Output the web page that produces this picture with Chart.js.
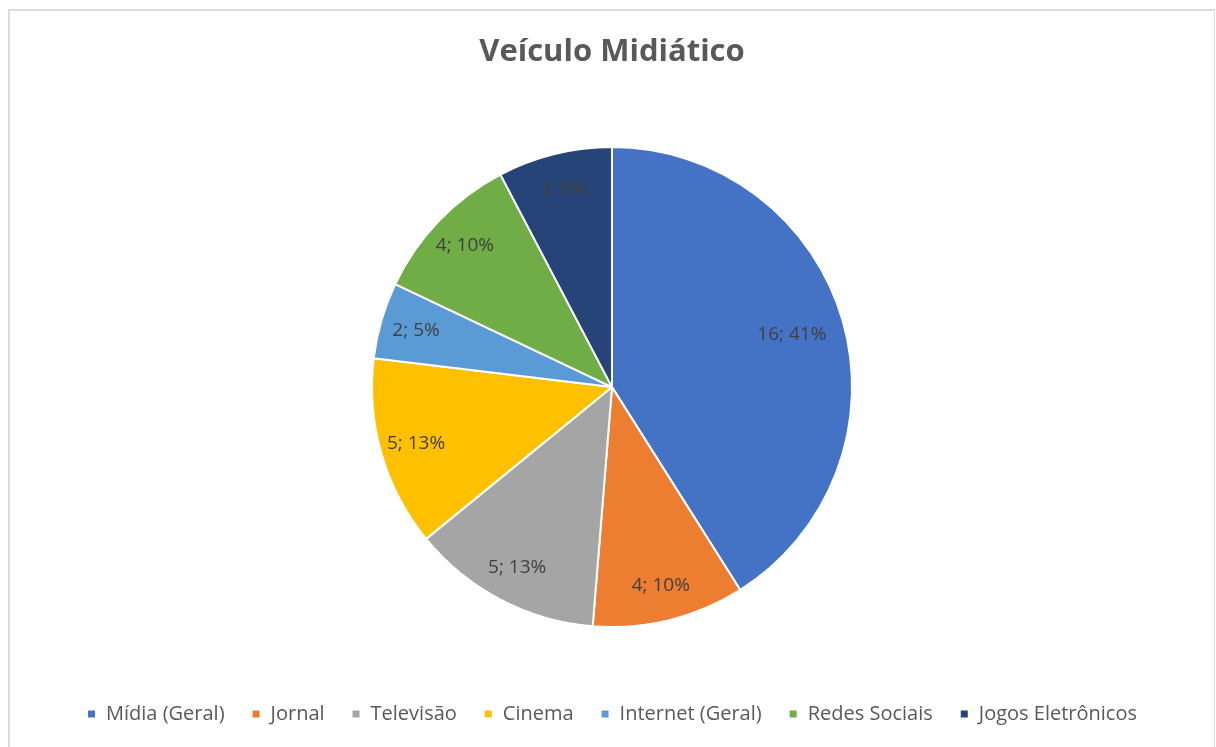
<!DOCTYPE html>
<html>
<head>
<meta charset="utf-8">
<script src="https://cdn.jsdelivr.net/npm/chart.js@4"></script>
<style>
  body { margin: 0; background: #fff; }
  #frame { position: absolute; left: 8px; top: 9px; width: 1207px; height: 760px; border: 2px solid #dcdcdc; border-right-width: 1px; box-sizing: border-box; }
  #wrap { position: absolute; left: 0; top: 0; width: 1216px; height: 747px; }
</style>
</head>
<body>
<div id="frame"></div>
<div id="wrap"><canvas id="chart"></canvas></div>
<script>
const categories = ['Mídia (Geral)', 'Jornal', 'Televisão', 'Cinema', 'Internet (Geral)', 'Redes Sociais', 'Jogos Eletrônicos'];
const counts = [16, 4, 5, 5, 2, 4, 3];
const colors = ['#4472c4', '#ed7d31', '#a5a5a5', '#ffc000', '#5b9bd5', '#70ad47', '#264478'];
const textColor = '#595959';

// "n; p%" labels placed near the rim, like Excel does
const sliceLabels = {
    id: 'sliceLabels',
    afterDatasetsDraw(chart) {
        const ctx = chart.ctx;
        const meta = chart.getDatasetMeta(0);
        const total = counts.reduce((a, b) => a + b, 0);
        ctx.save();
        ctx.font = '19px "Open Sans", sans-serif';
        ctx.fillStyle = '#404040';
        ctx.textAlign = 'center';
        ctx.textBaseline = 'middle';
        meta.data.forEach((arc, i) => {
            const p = arc.getProps(['x', 'y', 'startAngle', 'endAngle', 'outerRadius'], true);
            const mid = (p.startAngle + p.endAngle) / 2;
            const r = p.outerRadius * (i === 0 ? 0.78 : 0.85);
            const pct = Math.round(counts[i] / total * 100);
            ctx.fillText(`${counts[i]}; ${pct}%`, p.x + Math.cos(mid) * r, p.y + Math.sin(mid) * r);
        });
        ctx.restore();
    }
};

new Chart(document.getElementById('chart'), {
    type: 'pie',
    data: {
        labels: categories,
        datasets: [{
            data: counts,
            backgroundColor: colors,
            borderColor: '#ffffff',
            borderWidth: 2,
            radius: 240
        }]
    },
    options: {
        responsive: true,
        maintainAspectRatio: false,
        animation: false,
        layout: { padding: { bottom: 13, left: 8 } },
        plugins: {
            title: {
                display: true,
                text: 'Veículo Midiático',
                color: textColor,
                font: { family: '"Open Sans", sans-serif', size: 31, weight: 'bold' },
                padding: { top: 34, bottom: 26 }
            },
            legend: {
                position: 'bottom',
                labels: {
                    color: textColor,
                    font: { family: '"Open Sans", sans-serif', size: 20 },
                    boxWidth: 9,
                    boxHeight: 9,
                    padding: 27
                }
            },
            tooltip: { enabled: false }
        }
    },
    plugins: [sliceLabels]
});
</script>
</body>
</html>
